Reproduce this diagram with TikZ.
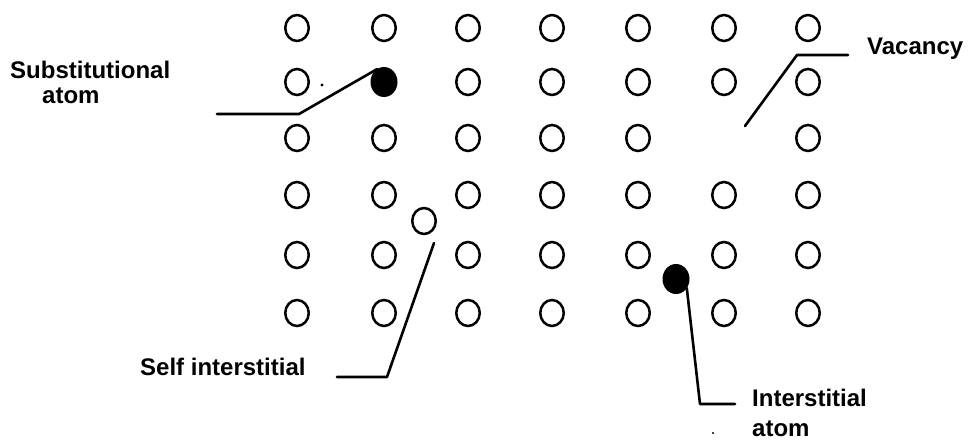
\documentclass[tikz,border=0pt]{standalone}
\usepackage{fontspec}
\setmainfont{Liberation Sans}
\usetikzlibrary{shapes.geometric}
\begin{document}
\begin{tikzpicture}[x=1pt,y=-1pt,
  atom/.style={ellipse,draw,line width=2.5pt,minimum width=23.5pt,minimum height=26pt,inner sep=0pt,outer sep=0pt},
  solute/.style={ellipse,fill,minimum width=27pt,minimum height=30pt,inner sep=0pt,outer sep=0pt},
  lbl/.style={anchor=base west,inner sep=0pt,font=\fontsize{24}{28}\selectfont\bfseries},
  lead/.style={line width=2.6pt,line cap=round,line join=round}]
\useasboundingbox (0,0) rectangle (972,444);
% lattice
\foreach \r/\y in {1/28,2/82,3/138,4/195,5/255,6/313}{
  \foreach \c/\x in {1/297,2/384,3/468,4/552,5/638,6/724,7/808}{
    \ifnum\numexpr\r*10+\c\relax=22 \else
    \ifnum\numexpr\r*10+\c\relax=36 \else
      \node[atom] (a\r\c) at (\x,\y) {};
    \fi\fi
  }
}
% defects
\node[solute] (sub) at (384,82) {};
\node[solute] (int) at (676,279) {};
\node[atom] (self) at (424,221) {};
\coordinate (vacsite) at (724,138);
% labels
\node[lbl] (subA) at (10,78) {Substitutional};
\node[lbl] (subB) at (42,103) {atom};
\node[lbl] (vac) at (867,55) {Vacancy};
\node[lbl] (selfl) at (140,375) {Self interstitial};
\node[lbl] (intA) at (752,406) {Interstitial};
\node[lbl] (intB) at (752,436) {atom};
% leader lines
\coordinate (subend) at (217,114);
\coordinate (subknee) at (299,114);
\draw[lead] (subend) -- (subknee) -- (sub.118);
\coordinate (vacend) at (848,55);
\coordinate (vacknee) at (797,55);
\coordinate (vactip) at (745,126);
\draw[lead] (vacend) -- (vacknee) -- (vactip);
\coordinate (selfend) at (337,377);
\coordinate (selfknee) at (387,377);
\coordinate (selftip) at (434,243);
\draw[lead] (selfend) -- (selfknee) -- (selftip);
\coordinate (intknee) at (700,404);
\coordinate (intend) at (735,404);
\draw[lead] (int.-40) -- (intknee) -- (intend);
% specks
\fill (322,85) circle (1.7pt);
\fill (713,433) circle (1.1pt);
\end{tikzpicture}
\end{document}
